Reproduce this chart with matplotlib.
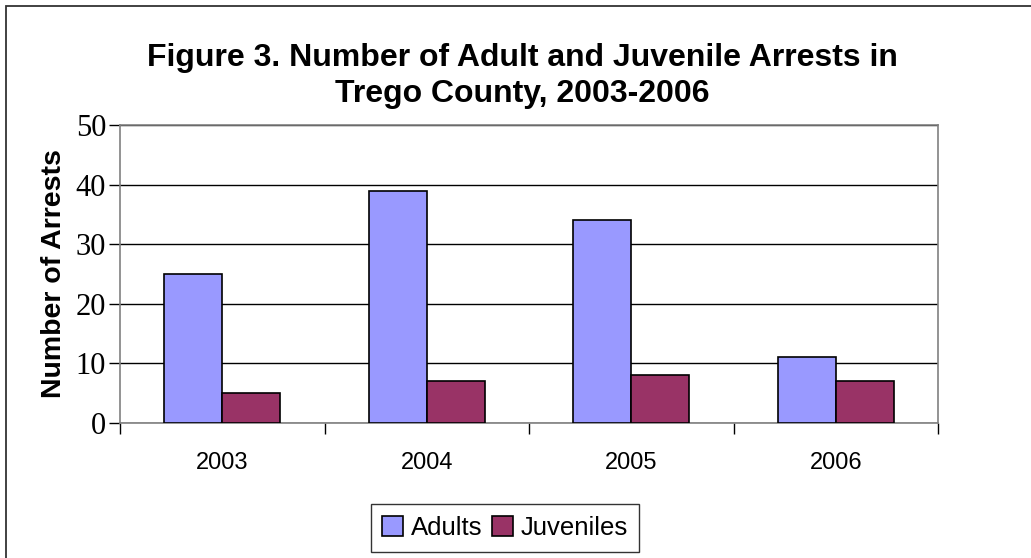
import matplotlib
matplotlib.use("Agg")
import matplotlib.pyplot as plt
import numpy as np
from matplotlib.patches import Rectangle

years = ["2003", "2004", "2005", "2006"]
adults = [25, 39, 34, 11]
juveniles = [5, 7, 8, 7]
yticks = [0, 10, 20, 30, 40, 50]

W, H = 1031, 558
fig = plt.figure(figsize=(W/100, H/100), dpi=100)
fig.patch.set_facecolor("white")

# outer frame
fig.add_artist(Rectangle((6/W, -0.01), 1.02 - 6/W, 1.01 - 6/H, transform=fig.transFigure,
                         fill=False, edgecolor="#333333", linewidth=1.3, clip_on=False))

ax = fig.add_axes([120/W, 1 - 423/H, (938-120)/W, (423-125)/H])
x = np.arange(len(years))
bw = 0.283
ax.bar(x - bw/2, adults, bw, color="#9999ff", edgecolor="black", linewidth=1.2, label="Adults", zorder=3)
ax.bar(x + bw/2, juveniles, bw, color="#993366", edgecolor="black", linewidth=1.2, label="Juveniles", zorder=3)

ax.set_xlim(-0.5, len(years) - 0.5)
ax.set_ylim(0, 50)
ax.set_yticks(yticks)
ax.set_yticklabels([str(t) for t in yticks], fontfamily="Liberation Serif", fontsize=22)
ax.yaxis.grid(True, color="black", linewidth=1.0, zorder=0)
ax.set_axisbelow(True)

ax.set_xticks(x)
ax.set_xticklabels(years, fontfamily="Liberation Sans", fontsize=17)
ax.set_xticks(np.arange(len(years) + 1) - 0.5, minor=True)
ax.tick_params(axis="x", which="major", length=0, pad=21)
ax.tick_params(axis="x", which="minor", length=8, width=1, color="black", direction="out")
ax.tick_params(axis="y", length=8, width=1, direction="out", pad=2)

for s in ["top", "right", "left", "bottom"]:
    ax.spines[s].set_color("#808080")
    ax.spines[s].set_linewidth(1.2)

ax.set_ylabel("Number of Arrests", fontfamily="Liberation Sans", fontweight="bold", fontsize=20.5, labelpad=6)

fig.text(522/W, 1 - 76/H, "Figure 3. Number of Adult and Juvenile Arrests in\nTrego County, 2003-2006",
         ha="center", va="center", fontfamily="Liberation Sans", fontweight="bold", fontsize=23,
         linespacing=1.3)

leg = fig.legend(loc="center", bbox_to_anchor=(505/W, 1 - 528/H), ncol=2, frameon=True,
                 prop={"family": "Liberation Sans", "size": 18.5}, fancybox=False,
                 handlelength=0.8, handleheight=0.8, handletextpad=0.3, columnspacing=0.4,
                 borderpad=0.45, borderaxespad=0)
leg.get_frame().set_edgecolor("black")
leg.get_frame().set_linewidth(1.0)

fig.savefig("out.png", dpi=100, facecolor="white")
